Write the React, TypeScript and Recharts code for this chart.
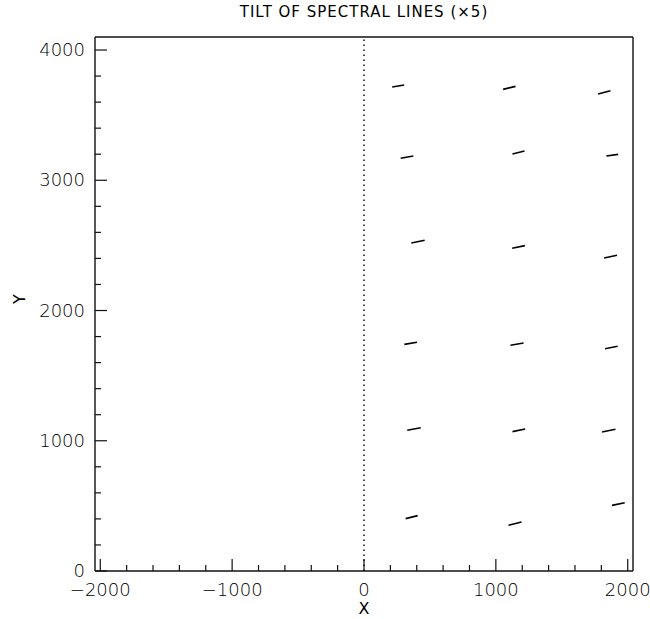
import React from "react";
import {
    ScatterChart,
    Scatter,
    XAxis,
    YAxis,
    ReferenceLine,
    Label,
} from "recharts";

// endpoints of each tilted segment (data units)
const startX = [214, 1055, 1775, 278, 1126, 1838, 359, 1124, 1821, 306, 1111, 1828, 328, 1126, 1805, 316, 1096, 1881];
const startY = [3716, 3698, 3662, 3169, 3202, 3186, 2518, 2478, 2403, 1740, 1733, 1707, 1080, 1070, 1067, 402, 351, 504];
const endX = [305, 1149, 1869, 374, 1217, 1927, 460, 1220, 1919, 402, 1210, 1924, 430, 1222, 1907, 407, 1195, 1977];
const endY = [3731, 3721, 3688, 3186, 3225, 3199, 2539, 2498, 2424, 1756, 1750, 1725, 1100, 1090, 1088, 425, 376, 524];

const xTicks = [-2000, -1800, -1600, -1400, -1200, -1000, -800, -600, -400, -200, 0, 200, 400, 600, 800, 1000, 1200, 1400, 1600, 1800, 2000];
const yTicks = [0, 200, 400, 600, 800, 1000, 1200, 1400, 1600, 1800, 2000, 2200, 2400, 2600, 2800, 3000, 3200, 3400, 3600, 3800, 4000];

const X_DOMAIN: [number, number] = [-2040, 2040];
const Y_DOMAIN: [number, number] = [0, 4100];

const MAJOR = 12;
const MINOR = 6;
const INK = "#111";
const FONT = "'DejaVu Sans', sans-serif";

const tickLen = (v: number) => (v % 1000 === 0 ? MAJOR : MINOR);
const fmt = (v: number) => (v < 0 ? `\u2212${Math.abs(v)}` : `${v}`);

function BottomTick({ x, y, payload }: any) {
    const v = payload.value;
    return (
        <g>
            <line x1={x} y1={y} x2={x} y2={y - tickLen(v)} stroke={INK} strokeWidth={1.2} />
            {v % 1000 === 0 && (
                <text x={x} y={y + 25} textAnchor="middle" fontSize={18} fontFamily={FONT} fill="#000" fontWeight={300}>
                    {fmt(v)}
                </text>
            )}
        </g>
    );
}

function TopTick({ x, y, payload }: any) {
    return <line x1={x} y1={y} x2={x} y2={y + tickLen(payload.value)} stroke={INK} strokeWidth={1.2} />;
}

function LeftTick({ x, y, payload }: any) {
    const v = payload.value;
    return (
        <g>
            <line x1={x} y1={y} x2={x + tickLen(v)} y2={y} stroke={INK} strokeWidth={1.2} />
            {v % 1000 === 0 && (
                <text x={x - 10} y={y + 6} textAnchor="end" fontSize={18} fontFamily={FONT} fill="#000" fontWeight={300}>
                    {fmt(v)}
                </text>
            )}
        </g>
    );
}

function RightTick({ x, y, payload }: any) {
    return <line x1={x} y1={y} x2={x - tickLen(payload.value)} y2={y} stroke={INK} strokeWidth={1.2} />;
}

export default function App() {
    const segments = startX.map((_, i) => [
        { x: startX[i], y: startY[i] },
        { x: endX[i], y: endY[i] },
    ]);

    const axisLine = { stroke: INK, strokeWidth: 1.4 };

    return (
        <div style={{ position: "absolute", left: 0, top: 0, background: "#fff" }}>
            <ScatterChart width={650} height={619} margin={{ top: 0, right: 0, bottom: 0, left: 0 }}>
                <XAxis
                    xAxisId="b"
                    type="number"
                    dataKey="x"
                    orientation="bottom"
                    domain={X_DOMAIN}
                    ticks={xTicks}
                    interval={0}
                    height={48}
                    tickSize={0}
                    tickMargin={0}
                    tickLine={false}
                    axisLine={axisLine}
                    tick={<BottomTick />}
                >
                    <Label value="X" position="insideBottom" offset={5} fontSize={16} fontFamily={FONT} fill="#000" />
                </XAxis>
                <XAxis
                    xAxisId="t"
                    type="number"
                    orientation="top"
                    domain={X_DOMAIN}
                    ticks={xTicks}
                    interval={0}
                    height={37}
                    tickSize={0}
                    tickMargin={0}
                    tickLine={false}
                    axisLine={axisLine}
                    tick={<TopTick />}
                >
                    <Label
                        value="TILT OF SPECTRAL LINES (×5)"
                        position="insideTop"
                        offset={6}
                        fontSize={15}
                        fontFamily={FONT}
                        fill="#000"
                        letterSpacing={1}
                    />
                </XAxis>
                <YAxis
                    yAxisId="l"
                    type="number"
                    dataKey="y"
                    orientation="left"
                    domain={Y_DOMAIN}
                    ticks={yTicks}
                    interval={0}
                    width={95}
                    tickSize={0}
                    tickMargin={0}
                    tickLine={false}
                    axisLine={axisLine}
                    tick={<LeftTick />}
                >
                    <Label value="Y" angle={-90} position="insideLeft" offset={19} fontSize={16} fontFamily={FONT} fill="#000" />
                </YAxis>
                <YAxis
                    yAxisId="r"
                    type="number"
                    orientation="right"
                    domain={Y_DOMAIN}
                    ticks={yTicks}
                    interval={0}
                    width={17}
                    tickSize={0}
                    tickMargin={0}
                    tickLine={false}
                    axisLine={axisLine}
                    tick={<RightTick />}
                />

                <ReferenceLine xAxisId="b" yAxisId="l" x={0} stroke={INK} strokeWidth={1.5} strokeDasharray="1.5 3.5" />

                {segments.map((seg, i) => (
                    <Scatter
                        key={i}
                        xAxisId="b"
                        yAxisId="l"
                        data={seg}
                        line={{ stroke: "#000", strokeWidth: 1.6 }}
                        shape={() => <g />}
                        isAnimationActive={false}
                    />
                ))}
            </ScatterChart>
        </div>
    );
}
